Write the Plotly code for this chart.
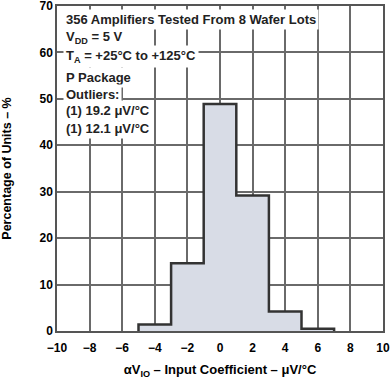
import plotly.graph_objects as go

bin_edges = [-5, -3, -1, 1, 3, 5, 7]
percent = [1.4, 14.6, 48.9, 29.2, 4.2, 0.5]
bin_centers = [(a + b) / 2 for a, b in zip(bin_edges[:-1], bin_edges[1:])]
x_ticks = [-10, -8, -6, -4, -2, 0, 2, 4, 6, 8, 10]
y_ticks = [0, 10, 20, 30, 40, 50, 60, 70]
info_lines = [
    "356 Amplifiers Tested From 8 Wafer Lots",
    "V<sub>DD</sub> = 5 V",
    "T<sub>A</sub> = +25°C to +125°C",
    "P Package",
    "Outliers:",
    "(1) 19.2 μV/°C",
    "(1) 12.1 μV/°C",
]
info_y = [67.0, 63.3, 59.2, 54.7, 51.0, 47.4, 43.7]

FONT = "Liberation Sans, Arial, sans-serif"
GRID = "#6a6a6a"

fig = go.Figure()
fig.add_trace(go.Bar(
    x=bin_centers, y=percent, width=2,
    marker=dict(color="#d8dce6", line=dict(width=0)),
    hoverinfo="skip", showlegend=False,
))
step_x = [bin_edges[0]] + bin_edges
step_y = [0] + percent + [0]
fig.add_trace(go.Scatter(
    x=step_x, y=step_y, mode="lines", line_shape="hv",
    line=dict(color="#333333", width=2.5), showlegend=False, hoverinfo="skip",
))

for txt, yy in zip(info_lines, info_y):
    fig.add_annotation(
        x=-9.63, y=yy, xref="x", yref="y", xanchor="left", yanchor="middle",
        text="<b>" + txt + "</b>", showarrow=False, align="left",
        bgcolor="white", borderpad=2,
        font=dict(family=FONT, size=13, color="#222222"),
    )

axis_common = dict(
    showgrid=True, gridcolor=GRID, gridwidth=1.5,
    showline=True, linecolor="#555555", linewidth=1.5, mirror=True,
    zeroline=False, ticks="", automargin=False, ticklabeloverflow="allow",
    tickfont=dict(family=FONT, size=12, color="black"),
)
fig.update_xaxes(
    range=[-10, 10], tickmode="array", tickvals=x_ticks,
    ticktext=["<b>" + (("−" + str(-v)) if v < 0 else str(v)) + "</b>" for v in x_ticks],
    ticklabelstandoff=5,
    title=dict(text="<b>αV<sub>IO</sub> – Input Coefficient – μV/°C</b>",
               font=dict(family=FONT, size=13, color="black"), standoff=14),
    **axis_common,
)
fig.update_yaxes(
    range=[0, 70], tickmode="array", tickvals=y_ticks,
    ticktext=["<b>" + str(v) + "</b>" for v in y_ticks],
    title=dict(text="<b>Percentage of Units – %</b>",
               font=dict(family=FONT, size=12.5, color="black"), standoff=25),
    **axis_common,
)
fig.update_layout(
    width=390, height=379,
    margin=dict(l=57, r=7, t=6, b=48),
    plot_bgcolor="white", paper_bgcolor="white",
    bargap=0,
)
fig.write_html("out.html", config={"displayModeBar": False},
               post_script="document.body.style.margin='0';")
